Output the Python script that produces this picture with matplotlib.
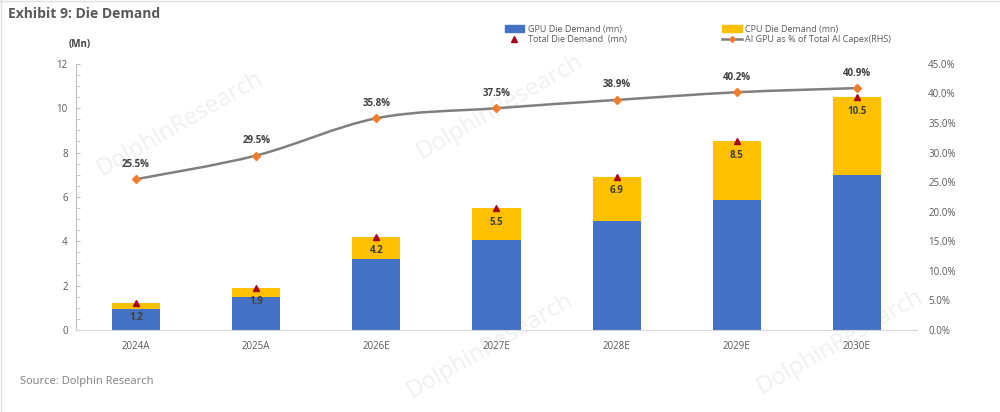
import matplotlib.pyplot as plt
import numpy as np
from matplotlib.path import Path
from matplotlib.patches import PathPatch, Patch
from matplotlib.lines import Line2D

# data
years = ['2024A', '2025A', '2026E', '2027E', '2028E', '2029E', '2030E']
gpu_die = [0.95, 1.5, 3.2, 4.07, 4.93, 5.87, 7.0]
total_die = [1.2, 1.9, 4.2, 5.5, 6.9, 8.5, 10.5]
gpu_share = [25.5, 29.5, 35.8, 37.5, 38.9, 40.2, 40.9]
cpu_die = [t - g for t, g in zip(total_die, gpu_die)]

blue = '#4472C4'
yellow = '#FFC000'
grey_line = '#7F7F7F'
orange = '#ED7D31'
dark_red = '#A50021'
txt = '#595959'

plt.rcParams['font.family'] = ['Open Sans', 'DejaVu Sans']

fig = plt.figure(figsize=(10, 4.12), dpi=100)

# faint watermarks, behind the chart
for (wx, wy) in [(0.18, 0.70), (0.50, 0.74), (0.49, 0.16), (0.84, 0.17)]:
    fig.text(wx, wy, 'DolphinResearch', fontsize=17, color='#F0F0F0', rotation=30,
             ha='center', va='center', zorder=-5)

ax = fig.add_axes([0.076, 0.199, 0.841, 0.646])
ax2 = ax.twinx()

x = np.arange(len(years))
ax.bar(x, gpu_die, width=0.4, color=blue, zorder=2)
ax.bar(x, cpu_die, width=0.4, bottom=gpu_die, color=yellow, zorder=2)
ax.plot(x, total_die, linestyle='none', marker='^', markersize=4, color=dark_red, zorder=3)
for xi, t in zip(x, total_die):
    ax.annotate(f'{t:.1f}', (xi, t), xytext=(0, -14), textcoords='offset pixels',
                ha='center', va='center', fontsize=7, fontweight='bold', color='#404040', zorder=4)

ax.set_xlim(-0.5, len(years) - 0.5)
ax.set_ylim(0, 12)
ax.set_yticks(range(0, 13, 2))
ax.set_yticks(np.arange(0, 12.01, 0.5), minor=True)
ax.set_xticks(x)
ax.set_xticklabels(years)
ax.tick_params(axis='x', length=0, pad=8, labelsize=7, labelcolor=txt)
ax.tick_params(axis='y', which='both', direction='in', length=3, color='#BFBFBF',
               labelsize=7, labelcolor=txt, pad=6)
for s in ['top', 'right']:
    ax.spines[s].set_visible(False)
ax.spines['left'].set_color('#BFBFBF')
ax.spines['bottom'].set_color('#D9D9D9')
ax.patch.set_visible(False)

# smooth line on right axis (cubic bezier through the points)
ys = np.array(gpu_share)
verts = [(x[0], ys[0])]
codes = [Path.MOVETO]
n = len(x)
for i in range(n - 1):
    p0 = (x[max(i - 1, 0)], ys[max(i - 1, 0)])
    p1 = (x[i], ys[i])
    p2 = (x[i + 1], ys[i + 1])
    p3 = (x[min(i + 2, n - 1)], ys[min(i + 2, n - 1)])
    c1 = (p1[0] + (p2[0] - p0[0]) / 6, p1[1] + (p2[1] - p0[1]) / 6)
    c2 = (p2[0] - (p3[0] - p1[0]) / 6, p2[1] - (p3[1] - p1[1]) / 6)
    verts += [c1, c2, p2]
    codes += [Path.CURVE4] * 3
ax2.add_patch(PathPatch(Path(verts, codes), facecolor='none', edgecolor=grey_line, lw=1.8, zorder=3))
ax2.plot(x, gpu_share, linestyle='none', marker='D', markersize=4, color=orange, zorder=4)
for xi, v in zip(x, gpu_share):
    ax2.annotate(f'{v:.1f}%', (xi, v), xytext=(0, 15), textcoords='offset pixels',
                 ha='center', va='center', fontsize=7, fontweight='bold', color='#404040')
ax2.set_ylim(0, 45)
ax2.set_yticks(np.arange(0, 45.1, 5))
ax2.set_yticklabels([f'{v:.1f}%' for v in np.arange(0, 45.1, 5)])
ax2.tick_params(axis='y', length=0, labelsize=7, labelcolor=txt, pad=8)
for s in ax2.spines.values():
    s.set_visible(False)

# legend
handles = [Patch(color=blue), Line2D([], [], linestyle='none', marker='^', markersize=4, color=dark_red),
           Patch(color=yellow), Line2D([], [], color=grey_line, lw=1.8, marker='D', markersize=3,
                                       markerfacecolor=orange, markeredgecolor=orange)]
labels = ['GPU Die Demand (mn)', 'Total Die Demand  (mn)', 'CPU Die Demand (mn)',
          'AI GPU as % of Total AI Capex(RHS)']
fig.legend(handles, labels, ncol=2, loc='center left', bbox_to_anchor=(0.5, 0.917),
           frameon=False, fontsize=6.5, labelcolor=txt, columnspacing=10.5, handlelength=2.2,
           handletextpad=0.4, labelspacing=0.15, borderpad=0)

fig.text(0.008, 0.966, 'Exhibit 9: Die Demand', fontsize=10, fontweight='bold', color=txt,
         ha='left', va='center')
fig.text(0.069, 0.893, '(Mn)', fontsize=7, fontweight='bold', color='#404040', ha='left', va='center')
fig.text(0.02, 0.075, 'Source: Dolphin Research', fontsize=8, color='#7F7F7F', ha='left', va='center')

fig.add_artist(Line2D([0.0, 1.0], [0.998, 0.998], color='#E0E0E0', lw=1))
fig.add_artist(Line2D([0.001, 0.001], [0.0, 1.0], color='#E0E0E0', lw=1))

fig.savefig('out.png', dpi=100)
